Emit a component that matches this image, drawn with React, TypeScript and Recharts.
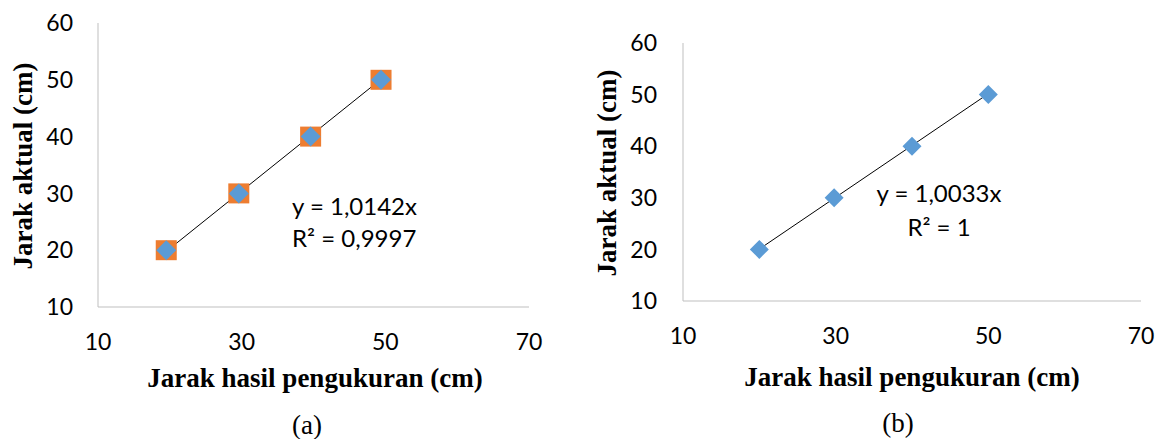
import React from 'react';
import { ScatterChart, Scatter, XAxis, YAxis, ReferenceLine } from 'recharts';

// (a) measured vs actual distance, two overlapping series
const measuredA = [19.5, 29.6, 39.6, 49.4];
const actualA = [20, 30, 40, 50];
// (b)
const measuredB = [20, 29.8, 40, 50];
const actualB = [20, 30, 40, 50];

// trendline end points (y = 1,0142x and y = 1,0033x)
const trendA = [{ x: 19.5, y: 19.78 }, { x: 49.4, y: 50.1 }];
const trendB = [{ x: 20, y: 20.07 }, { x: 50, y: 50.17 }];

const xTicks = [10, 30, 50, 70];
const yTicks = [10, 20, 30, 40, 50, 60];

const pointsA = measuredA.map((x, i) => ({ x, y: actualA[i] }));
const pointsB = measuredB.map((x, i) => ({ x, y: actualB[i] }));

const BLUE = '#5B9BD5';
const ORANGE = '#ED7D31';
const AXIS = '#BFBFBF';
const TICK_FONT = 'Lato, "Open Sans", sans-serif';
const TITLE_FONT = '"Liberation Serif", "DejaVu Serif", serif';

const Diamond = ({ cx, cy, r = 10 }: any) => (
  <polygon
    points={`${cx},${cy - r} ${cx + r},${cy} ${cx},${cy + r} ${cx - r},${cy}`}
    fill={BLUE}
  />
);

const Square = ({ cx, cy }: any) => (
  <rect x={cx - 10.5} y={cy - 10} width={21} height={20} fill={ORANGE} />
);

const tickStyle = { fill: '#000', fontSize: 23, fontFamily: TICK_FONT };

const AxisTitles = ({ xCx, xCy, yCx, yCy }: { xCx: number; xCy: number; yCx: number; yCy: number }) => (
  <>
    <div
      style={{
        position: 'absolute', left: xCx - 220, top: xCy - 18, width: 440, height: 36,
        lineHeight: '36px', textAlign: 'center', fontFamily: TITLE_FONT, fontWeight: 'bold', fontSize: 27,
        whiteSpace: 'nowrap',
      }}
    >
      Jarak hasil pengukuran (cm)
    </div>
    <div
      style={{
        position: 'absolute', left: yCx - 150, top: yCy - 18, width: 300, height: 36,
        lineHeight: '36px', textAlign: 'center', fontFamily: TITLE_FONT, fontWeight: 'bold', fontSize: 27,
        transform: 'rotate(-90deg)', whiteSpace: 'nowrap',
      }}
    >
      Jarak aktual (cm)
    </div>
  </>
);

const eqStyle: React.CSSProperties = {
  position: 'absolute', fontFamily: TICK_FONT, fontSize: 24, height: 30, lineHeight: '30px', whiteSpace: 'nowrap',
};

const captionStyle: React.CSSProperties = {
  position: 'absolute', width: 80, textAlign: 'center', fontFamily: TITLE_FONT, fontSize: 27,
  height: 34, lineHeight: '34px',
};

const App = () => {
  return (
    <div style={{ position: 'absolute', left: 0, top: 0, width: 1158, height: 439, background: '#fff' }}>
      <div style={{ position: 'absolute', left: 0, top: 0 }}>
        <ScatterChart width={560} height={439} margin={{ top: 23, right: 31, bottom: 92, left: 0 }}>
          <XAxis
            type="number" dataKey="x" domain={[10, 70]} ticks={xTicks} height={40}
            tickLine={false} tickSize={0} tickMargin={27} axisLine={{ stroke: AXIS }} tick={tickStyle}
          />
          <YAxis
            type="number" dataKey="y" domain={[10, 60]} ticks={yTicks} width={98}
            tickLine={false} tickSize={0} tickMargin={25} axisLine={{ stroke: AXIS }} tick={tickStyle}
          />
          <Scatter data={pointsA} shape={<Square />} isAnimationActive={false} />
          <Scatter data={pointsA} shape={<Diamond />} isAnimationActive={false} />
          <ReferenceLine segment={trendA} stroke="#000" strokeWidth={1} ifOverflow="visible" />
        </ScatterChart>
      </div>

      <div style={{ position: 'absolute', left: 580, top: 0 }}>
        <ScatterChart width={578} height={439} margin={{ top: 43, right: 17, bottom: 98, left: 0 }}>
          <XAxis
            type="number" dataKey="x" domain={[10, 70]} ticks={xTicks} height={40}
            tickLine={false} tickSize={0} tickMargin={27} axisLine={{ stroke: AXIS }} tick={tickStyle}
          />
          <YAxis
            type="number" dataKey="y" domain={[10, 60]} ticks={yTicks} width={103}
            tickLine={false} tickSize={0} tickMargin={26} axisLine={{ stroke: AXIS }} tick={tickStyle}
          />
          <Scatter data={pointsB} shape={<Diamond r={9.5} />} isAnimationActive={false} />
          <ReferenceLine segment={trendB} stroke="#000" strokeWidth={1} ifOverflow="visible" />
        </ScatterChart>
      </div>

      <AxisTitles xCx={315} xCy={378} yCx={23} yCy={166} />
      <AxisTitles xCx={912} xCy={377} yCx={607} yCy={173} />

      <div style={{ ...eqStyle, left: 292, top: 206 - 15 }}>y = 1,0142x</div>
      <div style={{ ...eqStyle, left: 292, top: 238 - 15 }}>R² = 0,9997</div>
      <div style={{ ...eqStyle, left: 839, width: 200, textAlign: 'center', top: 193 - 15 }}>y = 1,0033x</div>
      <div style={{ ...eqStyle, left: 839, width: 200, textAlign: 'center', top: 227 - 15 }}>R² = 1</div>

      <div style={{ ...captionStyle, left: 307 - 40, top: 425 - 17 }}>(a)</div>
      <div style={{ ...captionStyle, left: 898 - 40, top: 423 - 17 }}>(b)</div>
    </div>
  );
};

export default App;
